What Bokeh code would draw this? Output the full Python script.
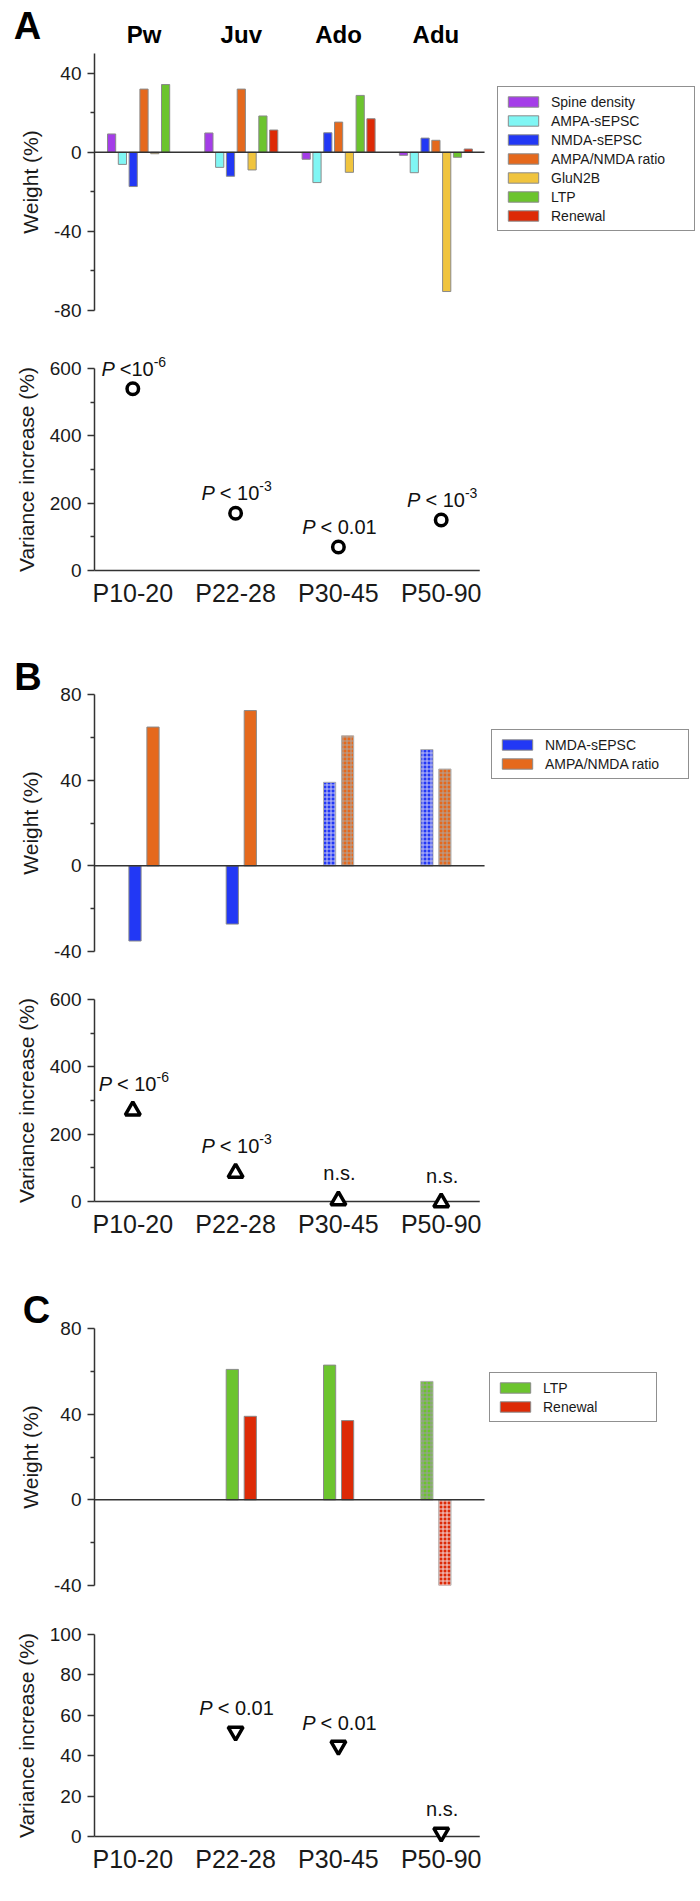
import math
from bokeh.plotting import figure
from bokeh.models import FixedTicker, Legend, LegendItem, ColumnDataSource, Range1d
from bokeh.core.properties import value
from bokeh.layouts import column
from bokeh.embed import file_html
from bokeh.resources import INLINE

NaN = math.nan
FONT = "Liberation Sans"

# ---------------- data ----------------
stages = ["Pw", "Juv", "Ado", "Adu"]
ages = ["P10-20", "P22-28", "P30-45", "P50-90"]

# Panel A (weights, %)
a_series = ["Spine density", "AMPA-sEPSC", "NMDA-sEPSC", "AMPA/NMDA ratio", "GluN2B", "LTP", "Renewal"]
a_colors = ["#A43DE8", "#80F6F4", "#2238F5", "#E5691D", "#F0C43E", "#6CC42E", "#DD2A06"]
a_spine = [9.3, 9.8, -3.5, -1.5]
a_ampa = [-6.1, -7.6, -15.3, -10.3]
a_nmda = [-17.3, -12.1, 9.9, 7.2]
a_ratio = [32.0, 32.0, 15.3, 6.1]
a_glun2b = [-0.7, -8.9, -10.1, -70.4]
a_ltp = [34.3, 18.4, 28.8, -2.5]
a_renewal = [NaN, 11.3, 17.0, 1.7]
a_var = [540, 170, 70, 150]
a_sig = [("P", "<10", "-6"), ("P", "< 10", "-3"), ("P", "< 0.01", ""), ("P", "< 10", "-3")]

# Panel B
b_series = ["NMDA-sEPSC", "AMPA/NMDA ratio"]
b_colors = ["#2238F5", "#E5691D"]
b_hatch_colors = ["#c4c4f4", "#b0a49c"]
b_nmda = [-35.1, -27.2, 39.0, 54.3]
b_ratio = [64.8, 72.5, 60.7, 45.2]
b_hatched = [False, False, True, True]
b_var = [270, 85, 3, -3]
b_sig = [("P", "< 10", "-6"), ("P", "< 10", "-3"), ("", "n.s.", ""), ("", "n.s.", "")]

# Panel C
c_series = ["LTP", "Renewal"]
c_colors = ["#6CC42E", "#DD2A06"]
c_hatch_colors = ["#9c9c9c", "#f2d6d6"]
c_ltp = [NaN, 60.9, 62.9, 55.3]
c_renewal = [NaN, 39.0, 37.0, -40.0]
c_hatched = [False, False, False, True]
c_var = [NaN, 52, 45, 2]
c_sig = [None, ("P", "< 0.01", ""), ("P", "< 0.01", ""), ("", "n.s.", "")]

# ---------------- layout constants ----------------
W = 700
LEFT = 94
FRAME_W = W - LEFT
BAR_PX = 97.3                       # px per group (bar panels)
BAR_X0 = -(143.5 - LEFT) / BAR_PX   # range start so group 0 sits at 143.5 px
VAR_PX = 102.8                      # px per group (variance panels)
VAR_X0 = -(132.3 - LEFT) / VAR_PX
VAR_X_END = 3.375                   # right end of the variance x-axis line

AXC = "#333333"
TXT = "#1a1a1a"


def style_y(p, ticks, minor, label):
    ax = p.yaxis[0]
    ax.ticker = FixedTicker(ticks=ticks, minor_ticks=minor)
    ax.major_label_overrides = {t: str(t) for t in ticks}
    ax.axis_label = label
    ax.axis_label_text_font = FONT
    ax.axis_label_text_font_size = "21px"
    ax.axis_label_text_font_style = "normal"
    ax.axis_label_text_color = TXT
    ax.axis_label_standoff = 9
    ax.major_label_text_font = FONT
    ax.major_label_text_font_size = "19px"
    ax.major_label_text_color = TXT
    ax.major_label_standoff = 6
    ax.axis_line_width = 1.5
    ax.axis_line_color = AXC
    ax.major_tick_line_width = 1.5
    ax.major_tick_line_color = AXC
    ax.major_tick_in = 0
    ax.major_tick_out = 7
    ax.minor_tick_line_width = 1.5
    ax.minor_tick_line_color = AXC
    ax.minor_tick_in = 0
    ax.minor_tick_out = 4


def base_fig(height, top, bottom, xr, yr):
    p = figure(width=W, height=height, x_range=xr, y_range=yr,
               output_backend="svg", toolbar_location=None,
               min_border_left=LEFT, min_border_right=0,
               min_border_top=top, min_border_bottom=bottom)
    p.outline_line_color = None
    p.grid.visible = False
    p.background_fill_color = "white"
    p.border_fill_color = "white"
    return p


def otext(p, x, y, t, size, style="normal", align="left", baseline="alphabetic", xoff=0, color="#111111"):
    p.text(x=[x], y=[y], text=[t], text_font=value(FONT), text_font_size=value(f"{size}px"),
           text_font_style=value(style), text_align=value(align), text_baseline=value(baseline),
           x_offset=xoff, text_color=color, level="overlay")


def make_legend(p, items, loc, label_w):
    lg = Legend(items=items, location=loc, orientation="vertical")
    lg.label_text_font = FONT
    lg.label_text_font_size = "14px"
    lg.label_text_color = TXT
    lg.glyph_width = 38
    lg.glyph_height = 13
    lg.label_height = 17
    lg.label_width = label_w
    lg.label_standoff = 9
    lg.spacing = 2
    lg.padding = 6
    lg.margin = 0
    lg.border_line_color = "#222222"
    lg.border_line_width = 1.5
    lg.background_fill_color = "white"
    lg.background_fill_alpha = 1.0
    p.add_layout(lg)


class BarPanel:
    def __init__(self, height, top, bottom, yr, ticks, minor, frame_h):
        self.yr = yr
        self.pxu = frame_h / (yr[1] - yr[0])
        xr = Range1d(BAR_X0, BAR_X0 + FRAME_W / BAR_PX)
        self.p = base_fig(height, top, bottom, xr, Range1d(*yr))
        self.p.xaxis.visible = False
        style_y(self.p, ticks, minor, "Weight (%)")

    def above_top(self, px):
        return self.yr[1] + px / self.pxu

    def x_at(self, page_x):
        return BAR_X0 + (page_x - LEFT) / BAR_PX

    def zero_line(self):
        self.p.segment(x0=[BAR_X0], y0=[0], x1=[len(ages) - 0.5], y1=[0],
                       line_width=1.5, line_color=AXC, level="overlay")

    def letter(self, t, page_x, px_above):
        otext(self.p, self.x_at(page_x), self.above_top(px_above), t, 38, "bold", "center", "middle", color="black")


CW = {'P': 0.667, ' ': 0.278, '<': 0.584, '0': 0.556, '1': 0.556, '3': 0.556,
      '6': 0.556, '-': 0.333, '.': 0.278, 'n': 0.556, 's': 0.5}


def tw(s, size):
    return sum(CW.get(c, 0.556) for c in s) * size


def add_sig(p, x, y, parts, rise, pxu):
    ital, main, sup = parts
    pieces = []
    if ital:
        pieces.append((ital, 20, "italic", 0, 5))
    pieces.append((main, 20, "normal", 0, 0))
    if sup:
        pieces.append((sup, 14, "normal", 7, 0))
    total = sum(tw(t, s) + g for t, s, _, _, g in pieces)
    cx = -total / 2.0 + 1
    for t, s, st, up, gap in pieces:
        otext(p, x, y + (rise + up) / pxu, t, s, st, "left", "alphabetic", xoff=cx)
        cx += tw(t, s) + gap


def var_fig(height, top, bottom, ymax, ticks, minor, values, marker, sigs, rise, frame_h=202):
    xr = Range1d(VAR_X0, VAR_X0 + FRAME_W / VAR_PX)
    p = base_fig(height, top, bottom, xr, Range1d(0, ymax))
    pxu = frame_h / ymax
    style_y(p, ticks, minor, "Variance increase (%)")
    ax = p.xaxis[0]
    ax.ticker = FixedTicker(ticks=list(range(len(ages))), minor_ticks=[])
    ax.major_label_overrides = {i: a for i, a in enumerate(ages)}
    ax.major_label_text_font = FONT
    ax.major_label_text_font_size = "25px"
    ax.major_label_text_color = TXT
    ax.major_label_standoff = 8
    ax.major_tick_out = 0
    ax.major_tick_in = 0
    ax.minor_tick_out = 0
    ax.minor_tick_in = 0
    ax.axis_line_color = None
    p.segment(x0=[VAR_X0], y0=[0], x1=[VAR_X_END], y1=[0], line_width=1.5,
              line_color=AXC, level="overlay")
    src = ColumnDataSource(dict(x=list(range(len(ages))), y=values))
    p.scatter(x="x", y="y", source=src, marker=marker, size=15 if marker != "circle" else 11.5,
              line_width=3.5, line_color="black", fill_color="white", level="overlay")
    for i, (v, s) in enumerate(zip(values, sigs)):
        if s is None or (isinstance(v, float) and math.isnan(v)):
            continue
        add_sig(p, i, v, s, rise, pxu)
    return p


def pair_bars(p, series, colors, hcolors, value_lists, hatched):
    off = 9.0 / BAR_PX
    items = []
    for k, (name, col, hcol, vals) in enumerate(zip(series, colors, hcolors, value_lists)):
        dx = (k - 0.5) * 2 * off
        xs_s = [g + dx for g in range(len(ages)) if not hatched[g]]
        ts_s = [vals[g] for g in range(len(ages)) if not hatched[g]]
        xs_h = [g + dx for g in range(len(ages)) if hatched[g]]
        ts_h = [vals[g] for g in range(len(ages)) if hatched[g]]
        r = p.vbar(x="x", top="top", bottom=0, width=12.2 / BAR_PX,
                   source=ColumnDataSource(dict(x=xs_s, top=ts_s)),
                   fill_color=col, line_color="#8a8a8a", line_width=1)
        p.vbar(x="x", top="top", bottom=0, width=12.2 / BAR_PX,
               source=ColumnDataSource(dict(x=xs_h, top=ts_h)),
               fill_color=col, line_color="#b0b0b0", line_width=1,
               hatch_pattern="+", hatch_scale=4, hatch_weight=1.0, hatch_color=hcol)
        items.append(LegendItem(label=name, renderers=[r]))
    return items


# ---------------- Panel A bars ----------------
A = BarPanel(335, 53, 25, (-80, 50), [-80, -40, 0, 40], [-60, -20, 20], 257)
pA = A.p
a_values = [a_spine, a_ampa, a_nmda, a_ratio, a_glun2b, a_ltp, a_renewal]
step = 10.8 / BAR_PX
a_items = []
for k, (name, col, vals) in enumerate(zip(a_series, a_colors, a_values)):
    xs = [g + (k - 3) * step for g in range(len(stages))]
    src = ColumnDataSource(dict(x=xs, top=vals))
    r = pA.vbar(x="x", top="top", bottom=0, width=8.2 / BAR_PX, source=src,
                fill_color=col, line_color="#8a8a8a", line_width=1)
    a_items.append(LegendItem(label=name, renderers=[r]))
A.zero_line()
for i, s in enumerate(stages):
    otext(pA, i, A.above_top(19.5), s, 24, "bold", "center", "middle", color="black")
A.letter("A", 27, 27.5)
make_legend(pA, a_items, (403, 79), 137)

# ---------------- Panel A variance ----------------
pA2 = var_fig(295, 33, 60, 600, [0, 200, 400, 600], [100, 300, 500], a_var, "circle", a_sig, 20)

# ---------------- Panel B ----------------
B = BarPanel(335, 64, 14, (-40, 80), [-40, 0, 40, 80], [-20, 20, 60], 257)
pB = B.p
b_items = pair_bars(pB, b_series, b_colors, b_hatch_colors, [b_nmda, b_ratio], b_hatched)
B.zero_line()
B.letter("B", 27.5, 17.5)
make_legend(pB, b_items, (397, 172), 137)

pB2 = var_fig(285, 34, 49, 600, [0, 200, 400, 600], [100, 300, 500], b_var, "triangle", b_sig, 27)

# ---------------- Panel C ----------------
C = BarPanel(350, 78, 15, (-40, 80), [-40, 0, 40, 80], [-20, 20, 60], 257)
pC = C.p
c_items = pair_bars(pC, c_series, c_colors, c_hatch_colors, [c_ltp, c_renewal], c_hatched)
C.zero_line()
C.letter("C", 36, 18.7)
make_legend(pC, c_items, (395, 163), 107)

pC2 = var_fig(285, 34, 49, 100, [0, 20, 40, 60, 80, 100], [], c_var, "inverted_triangle", c_sig, 23)

layout = column(pA, pA2, pB, pB2, pC, pC2, spacing=0)
open("out.html", "w").write(file_html(layout, INLINE))
